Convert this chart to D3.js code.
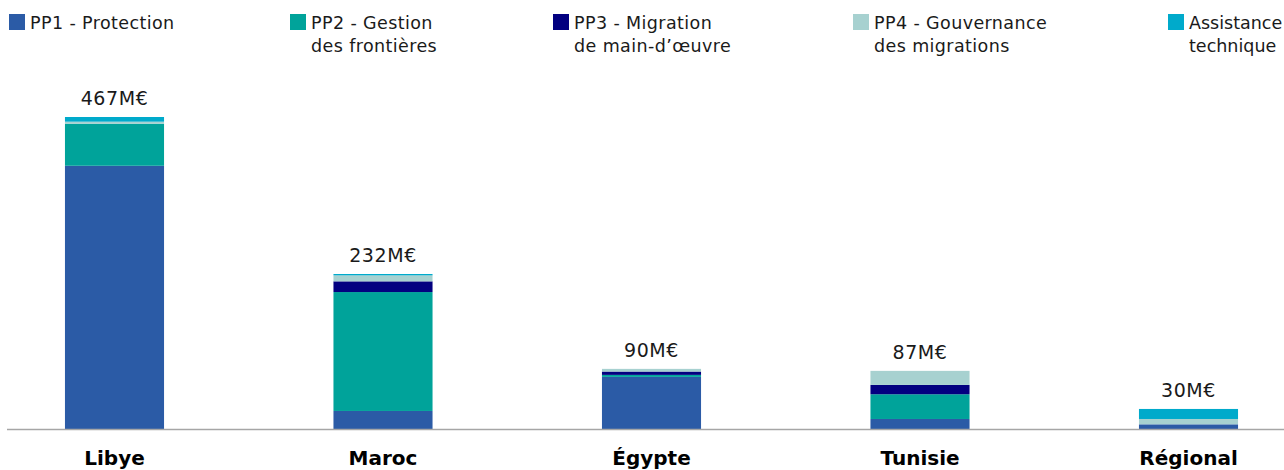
<!DOCTYPE html>
<html lang="fr">
<head>
<meta charset="utf-8">
<script src="https://cdn.jsdelivr.net/npm/d3@7"></script>
<style>
  html, body { margin: 0; padding: 0; background: #fff; }
  svg { display: block; font-family: "DejaVu Sans", "Noto Sans", sans-serif; }
</style>
</head>
<body>
<svg id="chart" width="1284" height="470"></svg>
<script>
// Pays / zones
const categories = ["Libye", "Maroc", "Égypte", "Tunisie", "Régional"];

// Montants par priorité (M€)
const pp1 = [394, 27, 78, 15, 7];
const pp2 = [63, 178, 3, 37, 0];
const pp3 = [0, 16, 5, 14, 0];
const pp4 = [3, 9, 4, 21, 8];
const assistance = [7, 2, 0, 0, 15];

// Totaux affichés au-dessus des barres
const totals = [467, 232, 90, 87, 30];

const seriesNames = [
  ["PP1 - Protection"],
  ["PP2 - Gestion", "des frontières"],
  ["PP3 - Migration", "de main-d\u2019œuvre"],
  ["PP4 - Gouvernance", "des migrations"],
  ["Assistance", "technique"]
];
const seriesKeys = ["pp1", "pp2", "pp3", "pp4", "at"];
const colors = ["#2B5BA6", "#00A39A", "#020080", "#A7D1D0", "#00AACB"];

const rows = categories.map((c, i) => ({
  cat: c, pp1: pp1[i], pp2: pp2[i], pp3: pp3[i], pp4: pp4[i], at: assistance[i]
}));

const svg = d3.select("#chart");
const baseY = 429;

const x = d3.scaleBand()
  .domain(categories)
  .range([-19.75, 1322.75])
  .paddingInner(0.631)
  .paddingOuter(0.3155);

const y = d3.scaleLinear()
  .domain([0, 467])
  .range([baseY, 117]);

const color = d3.scaleOrdinal().domain(seriesKeys).range(colors);

const stacked = d3.stack().keys(seriesKeys)(rows);

svg.append("g")
  .selectAll("g")
  .data(stacked)
  .join("g")
  .attr("fill", d => color(d.key))
  .selectAll("rect")
  .data(d => d)
  .join("rect")
  .attr("x", d => x(d.data.cat))
  .attr("width", x.bandwidth())
  .attr("y", d => y(d[1]))
  .attr("height", d => Math.max(0, y(d[0]) - y(d[1])));

// Ligne de base
svg.append("line")
  .attr("x1", 7).attr("x2", 1284)
  .attr("y1", baseY + 0.5).attr("y2", baseY + 0.5)
  .attr("stroke", "#A6A6A6")
  .attr("stroke-width", 1.5);

// Totaux
svg.append("g")
  .selectAll("text")
  .data(categories)
  .join("text")
  .attr("x", d => x(d) + x.bandwidth() / 2)
  .attr("y", (d, i) => y(totals[i]) - 12)
  .attr("text-anchor", "middle")
  .attr("font-size", 19)
  .attr("letter-spacing", 0.6)
  .attr("fill", "#1a1a1a")
  .text((d, i) => totals[i] + "M€");

// Libellés des catégories
const xAxis = d3.axisBottom(x).tickSize(0).tickPadding(0);
const gx = svg.append("g")
  .attr("transform", `translate(0,${baseY})`)
  .call(xAxis);
gx.select(".domain").remove();
gx.selectAll("text")
  .attr("dy", null)
  .attr("y", 36)
  .attr("font-family", "\"DejaVu Sans\", \"Noto Sans\", sans-serif")
  .attr("font-size", 20)
  .attr("font-weight", 700)
  .attr("fill", "#000");

// Légende
const legendX = [9, 290, 553, 853, 1168];
const legend = svg.append("g")
  .selectAll("g")
  .data(seriesKeys)
  .join("g")
  .attr("transform", (d, i) => `translate(${legendX[i]},0)`);

legend.append("rect")
  .attr("x", 0).attr("y", 14)
  .attr("width", 16).attr("height", 16)
  .attr("fill", d => color(d));

legend.append("text")
  .attr("font-size", 17.5)
  .attr("letter-spacing", (d, i) => i === seriesKeys.length - 1 ? 0 : 0.4)
  .attr("fill", "#1a1a1a")
  .selectAll("tspan")
  .data((d, i) => seriesNames[i])
  .join("tspan")
  .attr("x", 21)
  .attr("y", (d, j) => 29 + j * 23)
  .text(d => d);
</script>
</body>
</html>
